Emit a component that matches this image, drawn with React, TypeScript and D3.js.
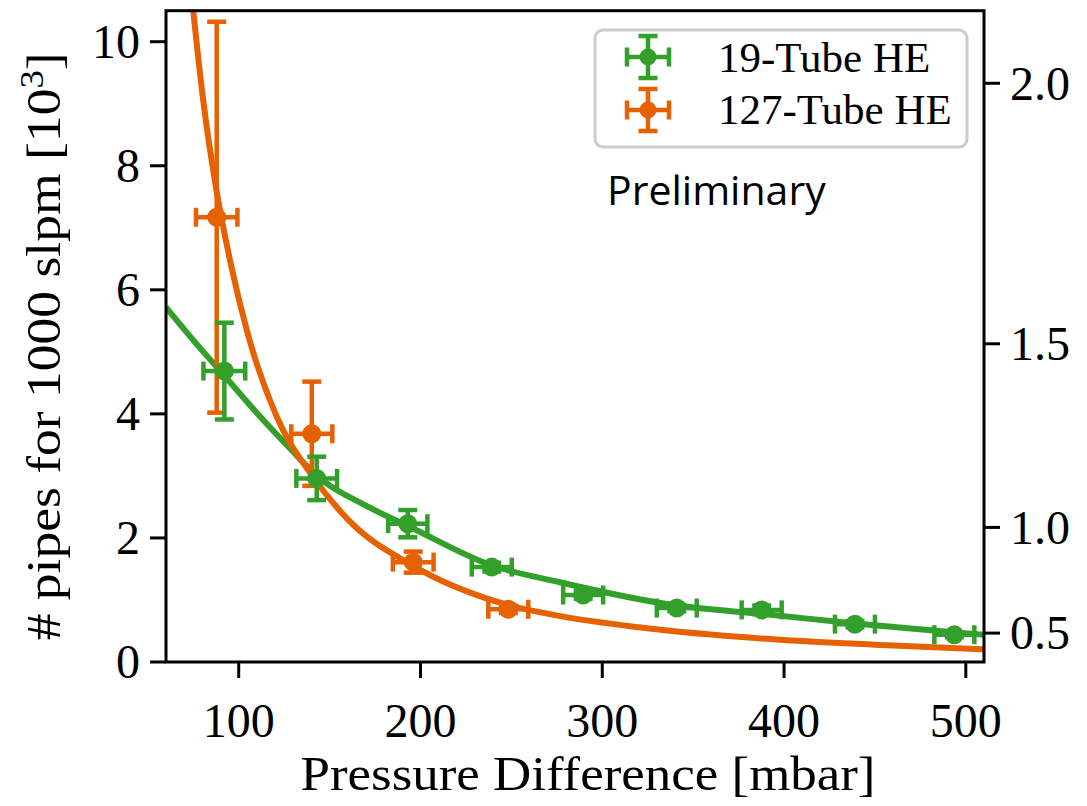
import React from "react";
import * as d3 from "d3";

// ---- data ----
const greenX = [92.1, 142.9, 193.0, 239.2, 289.5, 341.0, 387.7, 439.0, 493.7];
const greenY = [4.69, 2.96, 2.23, 1.53, 1.08, 0.87, 0.84, 0.61, 0.44];
const greenXErr = [11.5, 11.2, 10.8, 11, 11, 11, 11, 11, 11];
const greenYErr = [0.78, 0.35, 0.22, 0.07, 0.06, 0.05, 0.07, 0.05, 0.04];

const orangeX = [87.9, 140.2, 196.0, 248.3];
const orangeY = [7.17, 3.68, 1.61, 0.85];
const orangeXErr = [11.4, 11.3, 11.2, 11];
const orangeYErr = [3.15, 0.84, 0.17, 0.06];

const greenFitX = [60, 75, 92, 112, 128, 143, 170, 194, 239, 276, 341, 390, 439, 493, 510];
const greenFitY = [5.72, 5.19, 4.62, 3.95, 3.45, 3.0, 2.52, 2.18, 1.56, 1.29, 0.91, 0.77, 0.62, 0.48, 0.44];

const orangeFitX = [72, 75, 80.5, 87.5, 96, 105, 121, 140, 160, 196, 248, 277, 320, 400, 450, 510];
const orangeFitY = [11.4, 10.5, 9.05, 7.65, 6.37, 5.29, 3.95, 3.02, 2.3, 1.55, 0.92, 0.74, 0.56, 0.355, 0.28, 0.205];

const xTicks = [100, 200, 300, 400, 500];
const yTicks = [0, 2, 4, 6, 8, 10];
const rightTicks = [0.5, 1.0, 1.5, 2.0];
// positions of right-axis ticks expressed in left-axis units
const rightTicksOnLeft = [0.466, 2.17, 5.13, 9.33];

const seriesNames = ["19-Tube HE", "127-Tube HE"];
const GREEN = "#33a02c";
const ORANGE = "#e66101";

const W = 1087;
const H = 806;
const M = { left: 166, right: 984, top: 10.7, bottom: 662 };

export default function App() {
  const x = d3.scaleLinear().domain([60, 510]).range([M.left, M.right]);
  const y = d3.scaleLinear().domain([0, 10.5]).range([M.bottom, M.top]);
  const yRight = d3
    .scaleLinear()
    .domain(rightTicks)
    .range(rightTicksOnLeft.map((v) => y(v)));

  const line = d3
    .line<[number, number]>()
    .x((d) => x(d[0]))
    .y((d) => y(d[1]))
    .curve(d3.curveMonotoneX);

  const greenFit = line(greenFitX.map((v, i) => [v, greenFitY[i]] as [number, number])) || "";
  const orangeFit = line(orangeFitX.map((v, i) => [v, orangeFitY[i]] as [number, number])) || "";

  const cap = 9.5;
  const serif = "'Liberation Serif', 'Times New Roman', serif";

  const errorBars = (
    xs: number[],
    ys: number[],
    xe: number[],
    ye: number[],
    color: string,
    key: string
  ) =>
    xs.map((xv, i) => {
      const cx = x(xv);
      const cy = y(ys[i]);
      const x0 = x(xv - xe[i]);
      const x1 = x(xv + xe[i]);
      const y0 = y(ys[i] - ye[i]);
      const y1 = y(ys[i] + ye[i]);
      return (
        <g key={key + i} stroke={color} strokeWidth={4.5} fill={color}>
          <line x1={x0} x2={x1} y1={cy} y2={cy} />
          <line x1={cx} x2={cx} y1={y0} y2={y1} />
          <line x1={x0} x2={x0} y1={cy - cap} y2={cy + cap} />
          <line x1={x1} x2={x1} y1={cy - cap} y2={cy + cap} />
          <line x1={cx - cap} x2={cx + cap} y1={y0} y2={y0} />
          <line x1={cx - cap} x2={cx + cap} y1={y1} y2={y1} />
          <circle cx={cx} cy={cy} r={9.5} stroke="none" />
        </g>
      );
    });

  const legendGlyph = (cx: number, cy: number, color: string) => (
    <g stroke={color} strokeWidth={4.5} fill={color}>
      <line x1={cx - 21} x2={cx + 21} y1={cy} y2={cy} />
      <line x1={cx} x2={cx} y1={cy - 21} y2={cy + 21} />
      <line x1={cx - 21} x2={cx - 21} y1={cy - cap} y2={cy + cap} />
      <line x1={cx + 21} x2={cx + 21} y1={cy - cap} y2={cy + cap} />
      <line x1={cx - cap} x2={cx + cap} y1={cy - 21} y2={cy - 21} />
      <line x1={cx - cap} x2={cx + cap} y1={cy + 21} y2={cy + 21} />
      <circle cx={cx} cy={cy} r={8.5} stroke="none" />
    </g>
  );

  return (
    <svg
      width={W}
      height={H}
      style={{ position: "absolute", left: 0, top: 0, background: "#fff" }}
    >
      <defs>
        <clipPath id="plotClip">
          <rect x={M.left} y={M.top} width={M.right - M.left} height={M.bottom - M.top} />
        </clipPath>
      </defs>

      <g clipPath="url(#plotClip)">
        <path d={greenFit} fill="none" stroke={GREEN} strokeWidth={6} />
        <path d={orangeFit} fill="none" stroke={ORANGE} strokeWidth={6} />
        {errorBars(orangeX, orangeY, orangeXErr, orangeYErr, ORANGE, "o")}
        {errorBars(greenX, greenY, greenXErr, greenYErr, GREEN, "g")}
      </g>

      {/* frame */}
      <rect
        x={M.left}
        y={M.top}
        width={M.right - M.left}
        height={M.bottom - M.top}
        fill="none"
        stroke="#000"
        strokeWidth={3}
      />

      {/* left axis */}
      {yTicks.map((t) => (
        <g key={"yl" + t}>
          <line x1={M.left - 16} x2={M.left} y1={y(t)} y2={y(t)} stroke="#000" strokeWidth={3} />
          <text
            x={M.left - 26}
            y={y(t)}
            dy="0.34em"
            textAnchor="end"
            fontFamily={serif}
            fontSize={48}
          >
            {t}
          </text>
        </g>
      ))}

      {/* bottom axis */}
      {xTicks.map((t) => (
        <g key={"xb" + t}>
          <line x1={x(t)} x2={x(t)} y1={M.bottom} y2={M.bottom + 16} stroke="#000" strokeWidth={3} />
          <text x={x(t)} y={737} textAnchor="middle" fontFamily={serif} fontSize={48}>
            {t}
          </text>
        </g>
      ))}

      {/* right axis */}
      {rightTicks.map((t) => (
        <g key={"yr" + t}>
          <line
            x1={M.right}
            x2={M.right + 16}
            y1={yRight(t)}
            y2={yRight(t)}
            stroke="#000"
            strokeWidth={3}
          />
          <text
            x={M.right + 26}
            y={yRight(t)}
            dy="0.34em"
            textAnchor="start"
            fontFamily={serif}
            fontSize={48}
          >
            {t.toFixed(1)}
          </text>
        </g>
      ))}

      {/* axis labels */}
      <text
        x={588}
        y={790}
        textAnchor="middle"
        fontFamily={serif}
        fontSize={49}
        textLength={575}
        lengthAdjust="spacingAndGlyphs"
      >
        Pressure Difference [mbar]
      </text>
      <text
        transform={`translate(60, ${(M.top + M.bottom) / 2 + 10}) rotate(-90)`}
        textAnchor="middle"
        fontFamily={serif}
        fontSize={48}
        textLength={588}
        lengthAdjust="spacingAndGlyphs"
      >
        # pipes for 1000 slpm [10
        <tspan dy="-17" fontSize={33}>
          3
        </tspan>
        <tspan dy="17">]</tspan>
      </text>

      {/* legend */}
      <rect x={595} y={30} width={372} height={117} rx={8} fill="#fff" fillOpacity={0.8} stroke="#cccccc" strokeWidth={3} />
      {legendGlyph(648, 57, GREEN)}
      {legendGlyph(648, 110, ORANGE)}
      <text x={718} y={72} fontFamily={serif} fontSize={43}>
        {seriesNames[0]}
      </text>
      <text x={718} y={124} fontFamily={serif} fontSize={43}>
        {seriesNames[1]}
      </text>

      {/* annotation */}
      <text x={607} y={205} fontFamily="'Open Sans', 'Noto Sans', sans-serif" fontSize={41}>
        Preliminary
      </text>
    </svg>
  );
}
